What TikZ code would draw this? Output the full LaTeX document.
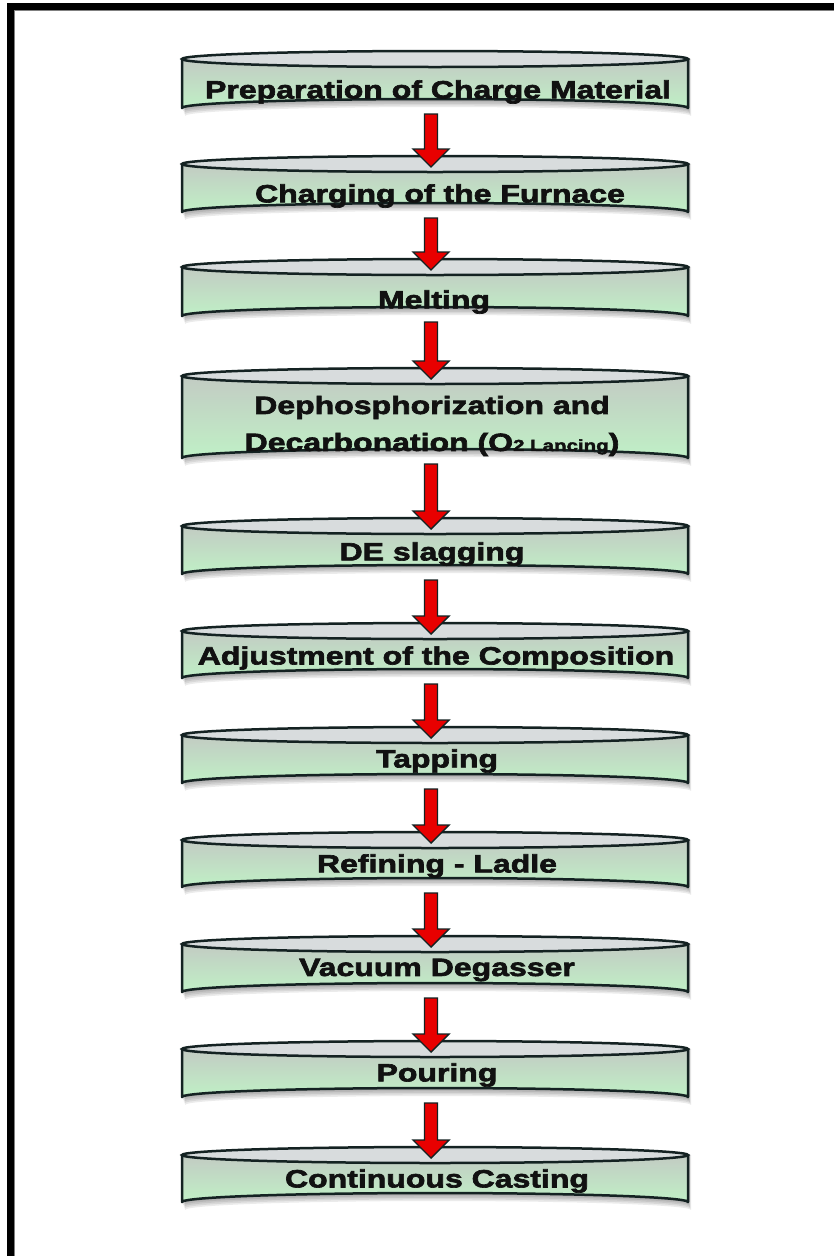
\documentclass[tikz,border=0pt]{standalone}
\usepackage{fontspec}
\usetikzlibrary{calc}
\newfontfamily\boxfont{Liberation Sans}[UprightFont=* Bold, FakeStretch=1.28, FakeBold=2.6]
\definecolor{topgray}{HTML}{D8DCDD}
\definecolor{bodytop}{HTML}{C2CBC3}
\definecolor{bodybot}{HTML}{C0F0C6}
\definecolor{outl}{HTML}{142222}
\definecolor{arrred}{HTML}{E80000}
\definecolor{txt}{HTML}{111111}
\tikzset{
  boxtext/.style={font=\boxfont\fontsize{25}{37}\selectfont, text=txt, inner sep=0pt, align=center},
  cylbody/.style={shade, top color=bodytop, bottom color=bodybot, draw=outl, line width=2.5pt, line join=round},
  cyltop/.style={fill=topgray, draw=outl, line width=2.5pt},
  cylshadow/.style={fill=black, opacity=0.08},
  flowarr/.style={fill=arrred, draw=outl, line width=1.4pt, line join=miter},
}
\newcommand\cylshadowdraw[2]{%
  \foreach \k in {1,...,5}{
    \fill[cylshadow] (182+0.6*\k,#1) -- (182+0.6*\k,#2+1.6*\k) arc[start angle=180,end angle=360,x radius=253,y radius=9] -- (688+0.6*\k,#1) -- cycle;
  }}
\newcommand\cyldraw[2]{%
  \path[cylbody] (182,#1) -- (182,#2) arc[start angle=180,end angle=360,x radius=253,y radius=9] -- (688,#1) -- cycle;
  \path[cyltop] (435,#1) ellipse[x radius=253, y radius=8];}
\newcommand\flowarrow[2]{%
  \path[flowarr] ($(#1)+(-6.5,0)$) -- ($(#2)+(-6.5,-18)$) -- ($(#2)+(-18,-18)$) -- (#2) -- ($(#2)+(18,-18)$) -- ($(#2)+(6.5,-18)$) -- ($(#1)+(6.5,0)$) -- cycle;}
\begin{document}
\begin{tikzpicture}[x=1pt,y=-1pt]
\useasboundingbox (0,0) rectangle (834,1256);
\clip (0,0) rectangle (834,1256);
\fill[white] (0,0) rectangle (834,1256);
% frame
\draw[line width=7pt] (10.5,6.5) rectangle (900,1300);
\draw[gray, line width=1.2pt] (14.6,1300) -- (14.6,10.6) -- (900,10.6);
% shadows
\foreach \c/\b in {59/108,164/212,267/316,376/458,526/574,631/678,735/783,840/887,944/992,1049/1097,1155/1202}{
  \cylshadowdraw{\c}{\b}
}
% arrow end points
\foreach \i/\b/\cn in {1/108/164,2/212/267,3/316/376,4/458/526,5/574/631,6/678/735,7/783/840,8/887/944,9/992/1049,10/1097/1155}{
  \coordinate (s\i) at (431,\b+6);
  \coordinate (e\i) at (431,\cn+3);
}
% boxes from bottom to top, arrows between
\cyldraw{1155}{1202}
\flowarrow{s10}{e10}
\cyldraw{1049}{1097}
\flowarrow{s9}{e9}
\cyldraw{944}{992}
\flowarrow{s8}{e8}
\cyldraw{840}{887}
\flowarrow{s7}{e7}
\cyldraw{735}{783}
\flowarrow{s6}{e6}
\cyldraw{631}{678}
\flowarrow{s5}{e5}
\cyldraw{526}{574}
\flowarrow{s4}{e4}
\cyldraw{376}{458}
\flowarrow{s3}{e3}
\cyldraw{267}{316}
\flowarrow{s2}{e2}
\cyldraw{164}{212}
\flowarrow{s1}{e1}
\cyldraw{59}{108}
% texts
\node[boxtext] (t1) at (438,92) {Preparation of Charge Material};
\node[boxtext] (t2) at (440,196) {Charging of the Furnace};
\node[boxtext] (t3) at (434,302) {Melting};
\node[boxtext] (t4) at (432,426) {Dephosphorization and\\Decarbonation (O{\fontsize{16}{16}\selectfont 2 Lancing})};
\node[boxtext] (t5) at (432,554) {DE slagging};
\node[boxtext] (t6) at (436,658) {Adjustment of the Composition};
\node[boxtext] (t7) at (437,761) {Tapping};
\node[boxtext] (t8) at (437,866) {Refining - Ladle};
\node[boxtext] (t9) at (437,970) {Vacuum Degasser};
\node[boxtext] (t10) at (437,1075) {Pouring};
\node[boxtext] (t11) at (437,1181) {Continuous Casting};
\end{tikzpicture}
\end{document}
